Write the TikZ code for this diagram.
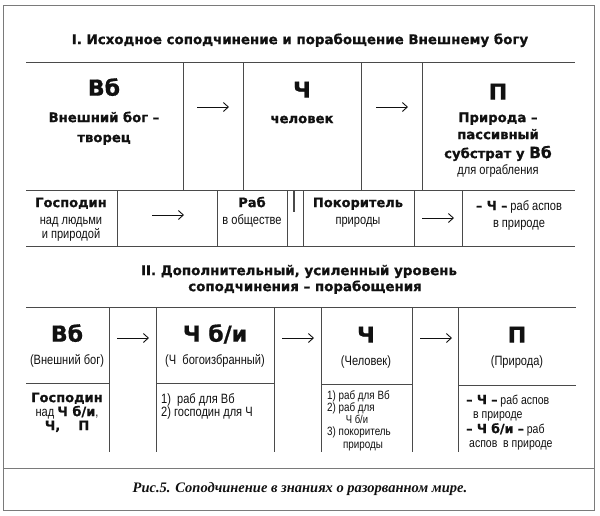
\documentclass[tikz,border=0pt]{standalone}
\usepackage{fontspec}
\setmainfont{Liberation Sans}
\newfontfamily\heavy{DejaVu Sans}[BoldFeatures={FakeBold=0.8}]
\newfontfamily\narrow{Liberation Sans}[FakeStretch=0.82]
\newfontfamily\capfont{Liberation Serif}
\usetikzlibrary{arrows.meta}
\definecolor{linec}{HTML}{4A4A4A}
\definecolor{framec}{HTML}{7A7A7A}
\definecolor{inkc}{HTML}{111111}
\tikzset{
  grid/.style={draw=linec, line width=0.8pt},
  frame/.style={draw=framec, line width=1pt},
  txt/.style={inner sep=0pt, text=inkc, text height=0.62em, text depth=0pt},
  title/.style={txt, font=\heavy\bfseries\fontsize{13.4}{16}\selectfont},
  big/.style={txt, font=\heavy\bfseries\fontsize{22}{24}\selectfont, text height=0.73em},
  med/.style={txt, font=\heavy\bfseries\fontsize{13.2}{15}\selectfont},
  medsm/.style={txt, font=\heavy\bfseries\fontsize{13}{15}\selectfont},
  nar/.style={txt, font=\narrow\fontsize{13.5}{15}\selectfont},
  nars/.style={txt, font=\narrow\fontsize{12}{14}\selectfont},
  narp/.style={txt, font=\narrow\fontsize{12.8}{14}\selectfont},
  capt/.style={txt, font=\capfont\bfseries\itshape\fontsize{14.5}{16}\selectfont},
  arr/.style={draw=inkc, line width=0.9pt, -{Straight Barb[length=5pt,width=9pt,line width=0.9pt]}},
}
\begin{document}
\begin{tikzpicture}[x=1pt,y=-1pt]
\useasboundingbox (0,0) rectangle (600,515);
\fill[white] (0,0) rectangle (600,515);
% outer frame
\draw[frame] (3,5) rectangle (594,510);
\draw[frame] (3,468) -- (594,468);

% ---------- Section I ----------
\node[title] (tI) at (300,41) {I. Исходное соподчинение и порабощение Внешнему богу};
\draw[grid] (26,62) -- (575,62);
\draw[grid] (26,190) -- (575,190);
\draw[grid] (26,246) -- (575,246);
\foreach \x in {183,243,361,422} \draw[grid] (\x,62) -- (\x,190);
\foreach \x in {117,217,287,303,414,462} \draw[grid] (\x,190) -- (\x,246);
\draw[draw=linec, line width=1.3pt] (294,191) -- (294,212);

\node[big] (vb1) at (104,92) {Вб};
\node[med] (vb1a) at (104,119) {Внешний бог –};
\node[med] (vb1b) at (104,139) {творец};

\coordinate (a1s) at (197,107); \coordinate (a1e) at (229,107);
\draw[arr] (a1s) -- (a1e);

\node[big] (ch1) at (302,94) {Ч};
\node[med] (ch1a) at (302,120) {человек};

\coordinate (a2s) at (376,107); \coordinate (a2e) at (408,107);
\draw[arr] (a2s) -- (a2e);

\node[big] (p1) at (498,96) {П};
\node[med] (p1a) at (498,119) {Природа –};
\node[med] (p1b) at (498,136) {пассивный};
\node[med] (p1c) at (498,155) {субстрат у {\fontsize{15.5}{17}\selectfont Вб}};
\node[nar] (p1d) at (498,171) {для ограбления};

\node[medsm] (g1) at (71,204) {Господин};
\node[nar] (g1a) at (71,221) {над людьми};
\node[nar] (g1b) at (71,235) {и природой};

\coordinate (a3s) at (152,215); \coordinate (a3e) at (184,215);
\draw[arr] (a3s) -- (a3e);

\node[medsm] (r1) at (252,204) {Раб};
\node[nar] (r1a) at (252,221) {в обществе};

\node[medsm] (k1) at (358,204) {Покоритель};
\node[nar] (k1a) at (358,221) {природы};

\coordinate (a4s) at (422,218); \coordinate (a4e) at (454,218);
\draw[arr] (a4s) -- (a4e);

\node[nar] (c1) at (519,207) {{\heavy\bfseries\fontsize{12.5}{14}\selectfont – Ч –} раб аспов};
\node[nar] (c1a) at (519,224) {в природе};

% ---------- Section II ----------
\node[title] (tII) at (299,272) {II. Дополнительный, усиленный уровень};
\node[title] (tIIb) at (305,288) {соподчинения – порабощения};
\draw[grid] (26,307) -- (576,307);
\foreach \x in {109,156,274,321,412,458} \draw[grid] (\x,307) -- (\x,452);
\draw[grid] (26,383) -- (109,383);
\draw[grid] (156,383) -- (274,383);
\draw[grid] (321,384) -- (412,384);
\draw[grid] (458,385) -- (576,385);

\node[big] (vb2) at (67,338) {Вб};
\node[nar] (vb2a) at (67,361) {(Внешний бог)};

\coordinate (b1s) at (117,338); \coordinate (b1e) at (149,338);
\draw[arr] (b1s) -- (b1e);

\node[big] (cb2) at (215,338) {Ч б/и};
\node[nar] (cb2a) at (215,361) {(Ч\ \ богоизбранный)};

\coordinate (b2s) at (282,338); \coordinate (b2e) at (314,338);
\draw[arr] (b2s) -- (b2e);

\node[big] (ch2) at (366,339) {Ч};
\node[nar] (ch2a) at (366,362) {(Человек)};

\coordinate (b3s) at (420,338); \coordinate (b3e) at (452,338);
\draw[arr] (b3s) -- (b3e);

\node[big] (p2) at (517,339) {П};
\node[nar] (p2a) at (517,362) {(Природа)};

% lower row
\node[medsm] (g2) at (67,399) {Господин};
\node[nar] (g2a) at (67,413) {над {\heavy\bfseries\fontsize{13}{15}\selectfont Ч б/и},};
\node[medsm] (g2b) at (67,427) {Ч,\ \ \ \ П};

\node[nar, anchor=west] (cb2l1) at (161,400) {1)\ \ раб для Вб};
\node[nar, anchor=west] (cb2l2) at (161,413) {2) господин для Ч};

\node[nars, anchor=west] (ch2l1) at (327,396) {1) раб для Вб};
\node[nars, anchor=west] (ch2l2) at (327,408) {2) раб для};
\node[nars, font=\narrow\fontsize{11.5}{13}\selectfont] (ch2l3) at (357,420) {Ч б/и};
\node[nars, anchor=west] (ch2l4) at (327,432) {3) покоритель};
\node[nars] (ch2l5) at (363,445) {природы};

\node[narp, anchor=west] (p2l1) at (466,401) {{\heavy\bfseries\fontsize{12.5}{14}\selectfont – Ч –} раб аспов};
\node[narp, anchor=west] (p2l2) at (473,415) {в природе};
\node[narp, anchor=west] (p2l3) at (466,430) {{\heavy\bfseries\fontsize{12.5}{14}\selectfont – Ч б/и –} раб};
\node[narp, anchor=west] (p2l4) at (469,444) {аспов\ \ в природе};

% caption
\node[capt] (cap) at (300,489) {Рис.5. Соподчинение в знаниях о разорванном мире.};
\end{tikzpicture}
\end{document}
